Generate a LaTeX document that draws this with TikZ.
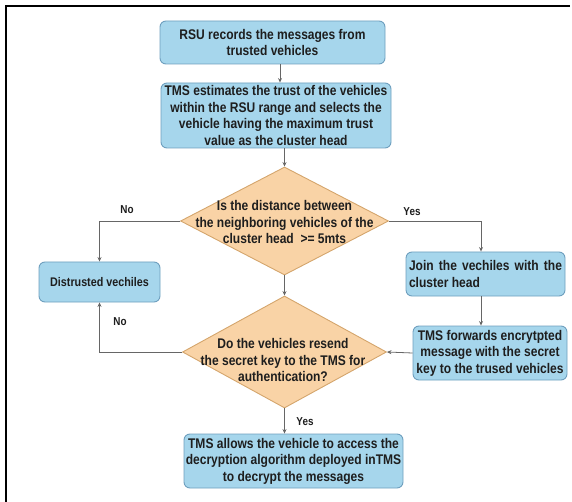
\documentclass[tikz,border=0pt]{standalone}
\usepackage{fontspec}
\setmainfont{Liberation Sans}[FakeStretch=0.86]
\usetikzlibrary{shapes.geometric,arrows.meta}
\definecolor{boxfill}{HTML}{A6D6EC}
\definecolor{boxline}{HTML}{6E9FBE}
\definecolor{dfill}{HTML}{F9D3A6}
\definecolor{dline}{HTML}{D4A56C}
\definecolor{txt}{HTML}{1E1E1E}
\definecolor{conncol}{HTML}{666666}
\begin{document}
\begin{tikzpicture}[x=1pt,y=-1pt,
  box/.style={draw=boxline, fill=boxfill, rounded corners=6pt, line width=0.9pt, inner sep=0pt, align=center, text=txt, font=\fontsize{14}{16.5}\selectfont\bfseries},
  dia/.style={draw=dline, fill=dfill, shape=diamond, line width=0.9pt, inner sep=0pt},
  dtext/.style={align=center, text=txt, inner sep=0pt, font=\fontsize{14}{16.2}\selectfont\bfseries},
  lab/.style={text=txt, inner sep=0pt, font=\fontsize{11.5}{13}\selectfont\bfseries},
  conn/.style={draw=conncol, line width=0.8pt, -{Stealth[length=4.5pt,width=4pt]}}]
\useasboundingbox (0,0) rectangle (572,502);
\draw[line width=2.2pt] (6,502) -- (6,6) -- (570,6);

\node[box, minimum width=225pt, minimum height=43pt] (b1) at (272.5,42.5)
  {RSU records the messages from\\trusted vehicles};
\node[box, minimum width=230pt, minimum height=65pt] (b2) at (276,115.5)
  {TMS estimates the trust of the vehicles\\within the RSU range and selects the\\vehicle having the maximum trust\\value as the cluster head};

\node[dia, minimum width=208pt, minimum height=108pt] (d1) at (284.5,221) {};
\node[dtext] (t1) at (284.5,222) {Is the distance between\\the neighboring vehicles of the\\cluster head\ \ >= 5mts};

\node[box, minimum width=121pt, minimum height=40pt, font=\fontsize{12.5}{15}\selectfont\bfseries] (dist) at (99.5,282) {Distrusted vechiles};

\node[box, minimum width=159pt, minimum height=44pt, align=justify, text width=153pt] (join) at (485.5,274)
  {Join the vechiles with the cluster head};

\node[box, minimum width=154pt, minimum height=54pt] (b3) at (490,353)
  {TMS forwards encrytpted\\message with the secret\\key to the trused vehicles};

\node[dia, minimum width=204pt, minimum height=112pt] (d2) at (284.5,352) {};
\node[dtext] (t2) at (283,360) {Do the vehicles resend\\the secret key to the TMS for\\authentication?};

\node[box, minimum width=219pt, minimum height=54pt] (b4) at (293.5,461)
  {TMS allows the vehicle to access the\\decryption algorithm deployed inTMS\\to decrypt the messages};

\coordinate (ax) at (280,0);
\coordinate (jx) at (481,0);

\draw[conn] (b1.south -| ax) -- (b2.north -| ax);
\draw[conn] (b2.south -| d1.north) -- (d1.north);
\draw[conn] (d1.west) -| (dist.north);
\draw[conn] (d1.east) -| (join.north -| jx);
\draw[conn] (d1.south) -- (d2.north);
\draw[conn] (join.south -| jx) -- (b3.north -| jx);
\draw[conn] (b3.west) -- (d2.east);
\draw[conn] (d2.west) -| (dist.south);
\draw[conn] (d2.south) -- (b4.north -| d2.south);

\node[lab] (l1) at (127,210) {No};
\node[lab] (l2) at (412,212) {Yes};
\node[lab] (l3) at (120,322) {No};
\node[lab] (l4) at (305,422) {Yes};
\end{tikzpicture}
\end{document}
